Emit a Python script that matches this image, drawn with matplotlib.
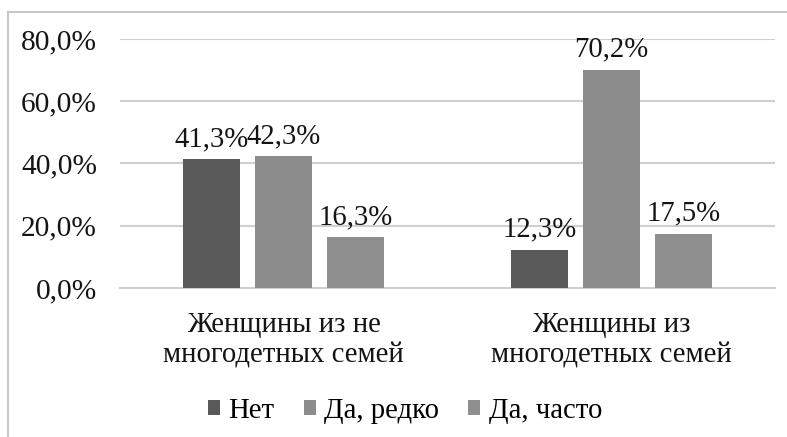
import matplotlib
matplotlib.use("Agg")
import matplotlib.pyplot as plt
import numpy as np
from matplotlib.lines import Line2D
from matplotlib.patches import Patch

categories = ["Женщины из не\nмногодетных семей", "Женщины из\nмногодетных семей"]
series_names = ["Нет", "Да, редко", "Да, часто"]
net = [41.3, 12.3]
redko = [42.3, 70.2]
chasto = [16.3, 17.5]
yticks = [0, 20, 40, 60, 80]
ytick_labels = ["0,0%", "20,0%", "40,0%", "60,0%", "80,0%"]

colors = ["#595959", "#8c8c8c", "#8f8f8f"]

plt.rcParams['font.family'] = ['Liberation Serif', 'DejaVu Serif']
fs = 20.7
txtc = "#141414"

fig = plt.figure(figsize=(7.87, 4.37), dpi=100)
ax = fig.add_axes([120/787, 1-288/437, (775-120)/787, (288-39)/437])

x = np.arange(len(categories))
width = 0.174
step = 0.22
data = [net, redko, chasto]
for i, (vals, c) in enumerate(zip(data, colors)):
    bars = ax.bar(x + (i-1)*step, vals, width, color=c, zorder=3)
    for b, v in zip(bars, vals):
        ax.text(b.get_x() + b.get_width()/2, v + 2.3, f"{v:.1f}%".replace(".", ","),
                ha="center", va="bottom", fontsize=fs, color=txtc, zorder=4)

ax.set_xlim(-0.5, 1.5)
ax.set_ylim(0, 80)
ax.set_yticks(yticks)
ax.set_yticklabels(ytick_labels, fontsize=21.2, color=txtc)
ax.set_xticks(x)
ax.set_xticklabels(categories, fontsize=fs, color=txtc, linespacing=1.25)
ax.tick_params(axis="both", length=0)
ax.tick_params(axis="y", pad=16.5)
ax.tick_params(axis="x", pad=17)
for s in ["top", "right", "left"]:
    ax.spines[s].set_visible(False)
ax.spines["bottom"].set_color("#d0d0d0")
ax.spines["bottom"].set_linewidth(1.5)
ax.yaxis.grid(True, color="#d0d0d0", linewidth=1.5, zorder=0)
ax.set_axisbelow(True)

handles = [Patch(facecolor=c, edgecolor="none") for c in colors]
fig.legend(handles, series_names, loc="center", bbox_to_anchor=(405/787, 1-411/437),
           ncol=3, frameon=False, fontsize=fs, handlelength=0.42, handleheight=0.42,
           handletextpad=0.3, columnspacing=1.0)

fig.add_artist(Line2D([7.5/787, 1], [1-12/437, 1-12/437], color="#c8c8c8", linewidth=1.5))
fig.add_artist(Line2D([7.5/787, 7.5/787], [0, 1-12/437], color="#c8c8c8", linewidth=1.5))

fig.savefig("out.png", dpi=100, facecolor="white")
